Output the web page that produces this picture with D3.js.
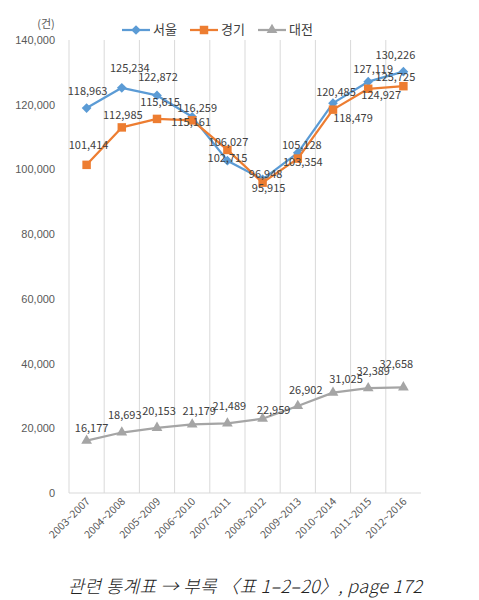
<!DOCTYPE html>
<html><head><meta charset="utf-8">
<script src="https://cdn.jsdelivr.net/npm/d3@7"></script>
<style>body{margin:0;background:#fff;}svg{display:block;font-family:"Noto Sans CJK KR","Noto Sans",sans-serif;}</style>
</head><body><svg id="c" width="479" height="600"></svg>
<script>
const categories = ["2003~2007","2004~2008","2005~2009","2006~2010","2007~2011","2008~2012","2009~2013","2010~2014","2011~2015","2012~2016"];
const seoul = [118963,125234,122872,116259,102715,96948,105128,120485,127119,130226];
const gyeonggi = [101414,112985,115615,115161,106027,95915,103354,118479,124927,125725];
const daejeon = [16177,18693,20153,21179,21489,22959,26902,31025,32389,32658];
const seriesNames = ["서울","경기","대전"];
const yTicks = [0,20000,40000,60000,80000,100000,120000,140000];
// data label nudges (dx, dy) relative to each point
const seoulLabelNudge = [[1,-16],[8,-19],[1,-17],[5,-8],[0,-2],[3,-4],[4,-7],[3,-10],[5,-12],[-8,-16]];
const gyeonggiLabelNudge = [[2,-19],[1,-11],[3,-16],[-1,3],[1,-7],[6,6],[5,4],[20,9],[13,7],[-8,-8]];
const daejeonLabelNudge = [[5,-12],[3,-16],[2,-16],[7,-12],[2,-16],[11,-8],[8,-15],[13,-13],[5,-16],[-7,-22]];

const svg = d3.select("#c");
const x = d3.scaleBand().domain(categories).range([69,421]);
const y = d3.scaleLinear().domain([0,140000]).range([493,40]);
const fmt = d3.format(",");

svg.append("g").selectAll("line").data(categories).join("line")
  .attr("x1",d=>x(d)).attr("x2",d=>x(d)).attr("y1",y(140000)).attr("y2",y(0))
  .attr("stroke","#d9d9d9").attr("stroke-width",1);
const xAxis = svg.append("g").attr("transform",`translate(0,${y(0)})`)
  .call(d3.axisBottom(x).tickSize(0).tickFormat(""));
xAxis.select(".domain").attr("stroke","#d9d9d9").attr("d",`M69,0H421`);
svg.append("g").selectAll("text").data(categories).join("text")
  .attr("transform",d=>`translate(${x(d)+x.bandwidth()/2+2},${y(0)+7}) rotate(-45)`)
  .attr("text-anchor","end").attr("dominant-baseline","middle")
  .attr("font-size",10.5).attr("fill","#595959").text(d=>d);

const yAxis = svg.append("g").attr("transform","translate(55,0)")
  .call(d3.axisLeft(y).tickValues(yTicks).tickSize(0).tickPadding(0).tickFormat(d=>fmt(d)));
yAxis.select(".domain").remove();
yAxis.selectAll("text").attr("font-size",11).attr("fill","#595959").attr("font-family","inherit");

svg.append("text").attr("x",46).attr("y",25).attr("text-anchor","middle").attr("dominant-baseline","middle")
  .attr("font-size",11).attr("fill","#595959").text("(건)");

const series = [
  {name:seriesNames[0], values:seoul, color:"#5B9BD5", marker:"diamond", nudge:seoulLabelNudge},
  {name:seriesNames[1], values:gyeonggi, color:"#ED7D31", marker:"square", nudge:gyeonggiLabelNudge},
  {name:seriesNames[2], values:daejeon, color:"#A5A5A5", marker:"triangle", nudge:daejeonLabelNudge}
];
const sym = {
  diamond: d3.symbol().type(d3.symbolDiamond2).size(60),
  square: d3.symbol().type(d3.symbolSquare).size(72),
  triangle: d3.symbol().type(d3.symbolTriangle).size(50)
};
const cx = d=>x(d)+x.bandwidth()/2;
const line = d3.line().x(d=>cx(d.c)).y(d=>y(d.v));

series.forEach(s=>{
  const pts = categories.map((c,i)=>({c,v:s.values[i],i}));
  svg.append("path").datum(pts).attr("d",line).attr("fill","none")
    .attr("stroke",s.color).attr("stroke-width",2.25).attr("stroke-linejoin","round");
  svg.append("g").selectAll("path").data(pts).join("path")
    .attr("transform",d=>`translate(${cx(d.c)},${y(d.v)})`)
    .attr("d",sym[s.marker]).attr("fill",s.color);
});
series.forEach(s=>{
  const pts = categories.map((c,i)=>({c,v:s.values[i],i}));
  svg.append("g").selectAll("text").data(pts).join("text")
    .attr("x",d=>cx(d.c)+s.nudge[d.i][0]).attr("y",d=>y(d.v)+s.nudge[d.i][1])
    .attr("text-anchor","middle").attr("dominant-baseline","middle")
    .attr("font-size",11).attr("fill","#404040").text(d=>fmt(d.v));
});

const lg = svg.append("g");
const legendX = [122,190,258];
series.forEach((s,i)=>{
  const g = lg.append("g").attr("transform",`translate(${legendX[i]},30)`);
  g.append("line").attr("x1",0).attr("x2",28).attr("y1",0).attr("y2",0)
    .attr("stroke",s.color).attr("stroke-width",2.25);
  g.append("path").attr("transform","translate(14,0)").attr("d",sym[s.marker]).attr("fill",s.color);
  g.append("text").attr("x",31).attr("y",0).attr("dominant-baseline","middle")
    .attr("font-size",13).attr("fill","#404040").text(s.name);
});

svg.append("text").attr("x",245).attr("y",588).attr("text-anchor","middle")
  .attr("dominant-baseline","middle").attr("font-size",18).attr("font-style","italic")
  .attr("font-weight",300).attr("letter-spacing",0.3)
  .attr("fill","#222").text("관련 통계표 → 부록 〈표 1–2–20〉, page 172");
</script></body></html>
